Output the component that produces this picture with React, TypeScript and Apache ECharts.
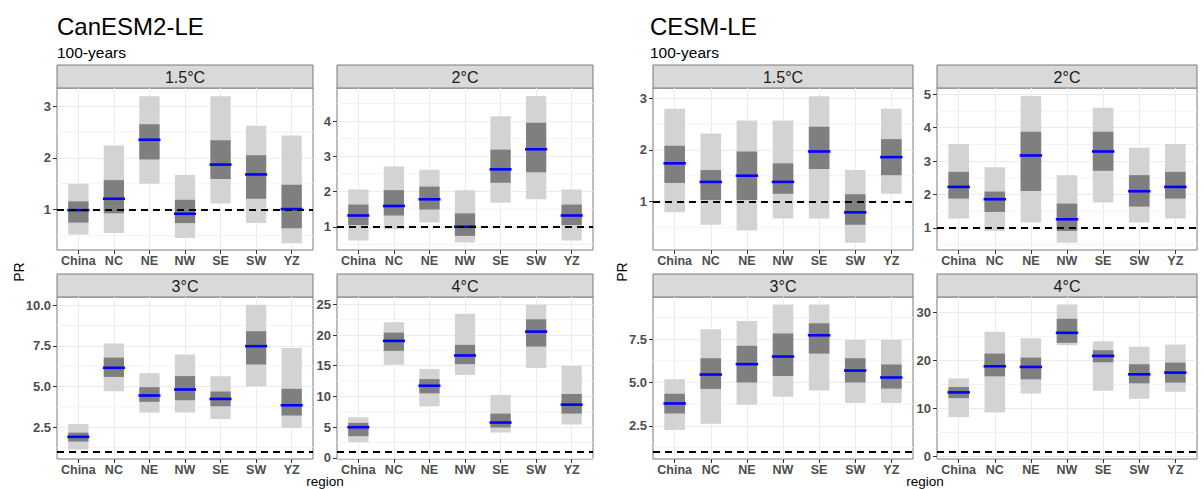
import React, { useEffect, useRef } from "react";
import * as echarts from "echarts";

const regions = ["China", "NC", "NE", "NW", "SE", "SW", "YZ"];

// CanESM2-LE
const can15Low = [0.52, 0.55, 1.5, 0.45, 1.12, 0.74, 0.35];
const can15High = [1.5, 2.24, 3.19, 1.67, 3.19, 2.62, 2.43];
const can15Q1 = [0.75, 0.93, 1.97, 0.74, 1.59, 1.21, 0.64];
const can15Q3 = [1.16, 1.57, 2.65, 1.19, 2.34, 2.05, 1.48];
const can15Median = [0.99, 1.21, 2.35, 0.92, 1.87, 1.68, 1.01];

const can2Low = [0.61, 0.93, 1.12, 0.55, 1.68, 1.78, 0.61];
const can2High = [2.06, 2.71, 2.62, 2.04, 4.14, 4.71, 2.06];
const can2Q1 = [1.05, 1.32, 1.49, 0.74, 2.25, 2.55, 1.05];
const can2Q3 = [1.63, 2.04, 2.14, 1.38, 3.19, 3.95, 1.63];
const can2Median = [1.32, 1.59, 1.78, 1.0, 2.63, 3.2, 1.32];

const can3Low = [1.13, 4.71, 3.4, 3.4, 3.01, 5.02, 2.46];
const can3High = [2.7, 7.64, 5.82, 6.97, 5.64, 10.02, 7.36];
const can3Q1 = [1.62, 5.59, 4.06, 4.16, 3.79, 6.35, 3.22];
const can3Q3 = [2.17, 6.78, 4.96, 5.64, 4.69, 8.4, 4.86];
const can3Median = [1.91, 6.15, 4.45, 4.82, 4.24, 7.48, 3.85];

const can4Low = [2.54, 15.15, 8.39, 13.47, 4.11, 14.61, 5.41];
const can4High = [6.6, 22.08, 14.45, 23.48, 10.23, 24.95, 14.94];
const can4Q1 = [3.52, 17.42, 10.5, 15.26, 4.92, 18.13, 7.2];
const can4Q3 = [5.68, 20.4, 12.82, 18.4, 7.2, 22.56, 10.39];
const can4Median = [4.98, 19.05, 11.74, 16.67, 5.74, 20.56, 8.66];

// CESM-LE
const cesm15Low = [0.79, 0.55, 0.44, 0.67, 0.67, 0.2, 1.15];
const cesm15High = [2.8, 2.32, 2.57, 2.57, 3.04, 1.61, 2.8];
const cesm15Q1 = [1.36, 1.03, 1.03, 1.15, 1.63, 0.55, 1.51];
const cesm15Q3 = [2.08, 1.61, 1.97, 1.74, 2.45, 1.14, 2.21];
const cesm15Median = [1.74, 1.38, 1.5, 1.38, 1.97, 0.79, 1.86];

const cesm2Low = [1.28, 0.91, 1.16, 0.56, 1.76, 1.16, 1.28];
const cesm2High = [3.51, 2.82, 4.95, 2.58, 4.6, 3.4, 3.51];
const cesm2Q1 = [1.88, 1.48, 2.11, 0.91, 2.71, 1.64, 1.88];
const cesm2Q3 = [2.68, 2.09, 3.88, 1.73, 3.88, 2.58, 2.68];
const cesm2Median = [2.23, 1.86, 3.17, 1.26, 3.29, 2.1, 2.23];

const cesm3Low = [2.25, 2.62, 3.71, 4.17, 4.54, 3.81, 3.81];
const cesm3High = [5.19, 8.08, 8.56, 9.5, 9.5, 7.46, 7.46];
const cesm3Q1 = [3.21, 4.63, 5.0, 5.37, 6.67, 5.0, 4.65];
const cesm3Q3 = [4.35, 6.4, 7.12, 7.83, 8.42, 6.4, 6.04];
const cesm3Median = [3.79, 5.46, 6.06, 6.5, 7.73, 5.69, 5.29];

const cesm4Low = [8.21, 9.19, 13.15, 23.17, 13.71, 12.04, 13.5];
const cesm4High = [16.28, 25.96, 24.63, 31.66, 24.0, 22.83, 23.31];
const cesm4Q1 = [12.18, 16.7, 16.08, 23.66, 19.62, 15.24, 15.38];
const cesm4Q3 = [14.47, 21.43, 20.6, 28.67, 22.13, 19.21, 19.55];
const cesm4Median = [13.36, 18.79, 18.65, 25.75, 20.95, 17.12, 17.47];

// tick labels
const can15Ticks = [1, 2, 3];
const can2Ticks = [1, 2, 3, 4];
const can3Ticks = [2.5, 5, 7.5, 10];
const can4Ticks = [0, 5, 10, 15, 20, 25];
const cesm15Ticks = [1, 2, 3];
const cesm2Ticks = [1, 2, 3, 4, 5];
const cesm3Ticks = [2.5, 5, 7.5];
const cesm4Ticks = [0, 10, 20, 30];

const modelTitles = ["CanESM2-LE", "CESM-LE"];
const subtitle = "100-years";
const panelTitles = ["1.5°C", "2°C", "3°C", "4°C"];
const referenceValue = 1;

type Panel = {
  title: string;
  low: number[];
  high: number[];
  q1: number[];
  q3: number[];
  median: number[];
  ticks: number[];
  yMin: number;
  yMax: number;
  decimals: number;
  left: number;
  top: number;
  width: number;
};

const TOP_ROW = 88;
const BOTTOM_ROW = 297;
const PLOT_H = 162;
const STRIP_H = 23;

const panels: Panel[] = [
  { title: panelTitles[0], low: can15Low, high: can15High, q1: can15Q1, q3: can15Q3, median: can15Median, ticks: can15Ticks, yMin: 0.22, yMax: 3.35, decimals: 0, left: 57, top: TOP_ROW, width: 256 },
  { title: panelTitles[1], low: can2Low, high: can2High, q1: can2Q1, q3: can2Q3, median: can2Median, ticks: can2Ticks, yMin: 0.34, yMax: 4.94, decimals: 0, left: 337, top: TOP_ROW, width: 256 },
  { title: panelTitles[2], low: can3Low, high: can3High, q1: can3Q1, q3: can3Q3, median: can3Median, ticks: can3Ticks, yMin: 0.55, yMax: 10.5, decimals: 1, left: 57, top: BOTTOM_ROW, width: 256 },
  { title: panelTitles[3], low: can4Low, high: can4High, q1: can4Q1, q3: can4Q3, median: can4Median, ticks: can4Ticks, yMin: -0.2, yMax: 26.2, decimals: 0, left: 337, top: BOTTOM_ROW, width: 256 },
  { title: panelTitles[0], low: cesm15Low, high: cesm15High, q1: cesm15Q1, q3: cesm15Q3, median: cesm15Median, ticks: cesm15Ticks, yMin: 0.06, yMax: 3.2, decimals: 0, left: 653, top: TOP_ROW, width: 260 },
  { title: panelTitles[1], low: cesm2Low, high: cesm2High, q1: cesm2Q1, q3: cesm2Q3, median: cesm2Median, ticks: cesm2Ticks, yMin: 0.34, yMax: 5.19, decimals: 0, left: 937, top: TOP_ROW, width: 260 },
  { title: panelTitles[2], low: cesm3Low, high: cesm3High, q1: cesm3Q1, q3: cesm3Q3, median: cesm3Median, ticks: cesm3Ticks, yMin: 0.58, yMax: 9.94, decimals: 1, left: 653, top: BOTTOM_ROW, width: 260 },
  { title: panelTitles[3], low: cesm4Low, high: cesm4High, q1: cesm4Q1, q3: cesm4Q3, median: cesm4Median, ticks: cesm4Ticks, yMin: -0.5, yMax: 33.2, decimals: 0, left: 937, top: BOTTOM_ROW, width: 260 },
];

const FONT = "'Liberation Sans', Arial, Helvetica, sans-serif";
const LIGHT = "#d3d3d3";
const DARK = "#7f7f7f";
const BLUE = "#0000ff";
const BORDER = "#7a7a7a";
const GRID = "#ebebeb";
const MINOR = "#f3f3f3";

function minorsOf(ticks: number[], min: number, max: number) {
  const step = ticks[1] - ticks[0];
  const out: number[] = [];
  const candidates = [ticks[0] - step / 2, ...ticks.map((t) => t + step / 2)];
  candidates.forEach((v) => {
    if (v > min && v < max) out.push(v);
  });
  return out;
}

function buildOption() {
  const grid: any[] = [];
  const xAxis: any[] = [];
  const yAxis: any[] = [];
  const series: any[] = [];
  const graphic: any[] = [];
  const catIdx = regions.map((_, i) => i);

  panels.forEach((p, i) => {
    grid.push({
      left: p.left,
      top: p.top,
      width: p.width,
      height: PLOT_H,
      show: true,
      backgroundColor: "#ffffff",
      borderColor: BORDER,
      borderWidth: 1,
      containLabel: false,
    });
    xAxis.push({
      type: "value",
      gridIndex: i,
      position: "bottom",
      min: -0.6,
      max: 6.6,
      axisLine: { show: false, onZero: false },
      axisTick: { show: true, customValues: catIdx, length: 4, lineStyle: { color: "#333", width: 1 } },
      axisLabel: {
        customValues: catIdx,
        formatter: (v: number) => regions[Math.round(v)] ?? "",
        color: "#4d4d4d",
        fontWeight: "bold",
        fontSize: 12.5,
        fontFamily: FONT,
        margin: 4,
      },
      splitLine: { show: true, lineStyle: { color: GRID, width: 1 } },
    });
    yAxis.push({
      type: "value",
      gridIndex: i,
      position: "left",
      min: p.yMin,
      max: p.yMax,
      axisLine: { show: false, onZero: false },
      axisTick: { show: true, customValues: p.ticks, length: 4, lineStyle: { color: "#333", width: 1 } },
      axisLabel: {
        customValues: p.ticks,
        formatter: (v: number) => v.toFixed(p.decimals),
        color: "#4d4d4d",
        fontWeight: "bold",
        fontSize: 13,
        fontFamily: FONT,
        margin: 6,
      },
      splitLine: { show: true, lineStyle: { color: GRID, width: 1 } },
    });

    const minors = minorsOf(p.ticks, p.yMin, p.yMax);
    series.push({
      type: "custom",
      xAxisIndex: i,
      yAxisIndex: i,
      data: minors.map((v) => [v]),
      encode: { y: 0 },
      clip: true,
      silent: true,
      z: 1,
      renderItem: (params: any, api: any) => {
        const v = api.value(0);
        const a = api.coord([-0.6, v]);
        const b = api.coord([6.6, v]);
        return {
          type: "line",
          shape: { x1: a[0], y1: a[1], x2: b[0], y2: b[1] },
          style: { stroke: MINOR, lineWidth: 1 },
        };
      },
    });

    const data = regions.map((_, k) => [k, p.low[k], p.high[k], p.q1[k], p.q3[k], p.median[k]]);
    series.push({
      type: "custom",
      xAxisIndex: i,
      yAxisIndex: i,
      data,
      encode: { x: 0, y: [1, 2] },
      clip: false,
      renderItem: (params: any, api: any) => {
        const x = api.value(0);
        const bw = 0.57;
        const mw = 0.62;
        const lowPt = api.coord([x - bw / 2, api.value(1)]);
        const highPt = api.coord([x + bw / 2, api.value(2)]);
        const q1Pt = api.coord([x - bw / 2, api.value(3)]);
        const q3Pt = api.coord([x + bw / 2, api.value(4)]);
        const mL = api.coord([x - mw / 2, api.value(5)]);
        const mR = api.coord([x + mw / 2, api.value(5)]);
        return {
          type: "group",
          children: [
            {
              type: "rect",
              shape: { x: lowPt[0], y: highPt[1], width: highPt[0] - lowPt[0], height: lowPt[1] - highPt[1] },
              style: { fill: LIGHT },
            },
            {
              type: "rect",
              shape: { x: q1Pt[0], y: q3Pt[1], width: q3Pt[0] - q1Pt[0], height: q1Pt[1] - q3Pt[1] },
              style: { fill: DARK },
            },
            {
              type: "line",
              shape: { x1: mL[0], y1: mL[1], x2: mR[0], y2: mR[1] },
              style: { stroke: BLUE, lineWidth: 2.6 },
            },
          ],
        };
      },
      markLine: {
        silent: true,
        symbol: "none",
        label: { show: false },
        lineStyle: { color: "#000", width: 2, type: [7, 5] },
        data: [{ yAxis: referenceValue }],
        animation: false,
      },
      z: 3,
    });

    // strip
    graphic.push({
      type: "rect",
      shape: { x: p.left, y: p.top - STRIP_H, width: p.width, height: STRIP_H },
      style: { fill: "#d9d9d9", stroke: BORDER, lineWidth: 1 },
      silent: true,
    });
    graphic.push({
      type: "text",
      x: p.left + p.width / 2,
      y: p.top - STRIP_H / 2 + 0.5,
      style: {
        text: p.title,
        fill: "#1a1a1a",
        fontSize: 16,
        fontFamily: FONT,
        align: "center",
        verticalAlign: "middle",
      },
      silent: true,
    });
  });

  const groupX = [57, 650];
  const prX = [19, 622];
  const regionX = [325, 925];
  modelTitles.forEach((t, g) => {
    graphic.push({
      type: "text",
      x: groupX[g],
      y: 26,
      style: { text: t, fill: "#000", fontSize: 24, fontFamily: FONT, align: "left", verticalAlign: "middle" },
      silent: true,
    });
    graphic.push({
      type: "text",
      x: groupX[g],
      y: 52,
      style: { text: subtitle, fill: "#000", fontSize: 15.5, fontFamily: FONT, align: "left", verticalAlign: "middle" },
      silent: true,
    });
    graphic.push({
      type: "text",
      x: prX[g],
      y: 272,
      rotation: Math.PI / 2,
      style: { text: "PR", fill: "#000", fontSize: 14, fontFamily: FONT, align: "center", verticalAlign: "middle" },
      silent: true,
    });
    graphic.push({
      type: "text",
      x: regionX[g],
      y: 481,
      style: { text: "region", fill: "#000", fontSize: 13.5, fontFamily: FONT, align: "center", verticalAlign: "middle" },
      silent: true,
    });
  });

  return {
    animation: false,
    backgroundColor: "#ffffff",
    grid,
    xAxis,
    yAxis,
    series,
    graphic,
  };
}

export default function App() {
  const ref = useRef<HTMLDivElement>(null);
  useEffect(() => {
    if (!ref.current) return;
    const chart = echarts.init(ref.current, undefined, { renderer: "svg" });
    chart.setOption(buildOption() as any);
    return () => chart.dispose();
  }, []);
  return (
    <div
      ref={ref}
      style={{ position: "absolute", left: 0, top: 0, width: 1204, height: 489, background: "#fff" }}
    />
  );
}
